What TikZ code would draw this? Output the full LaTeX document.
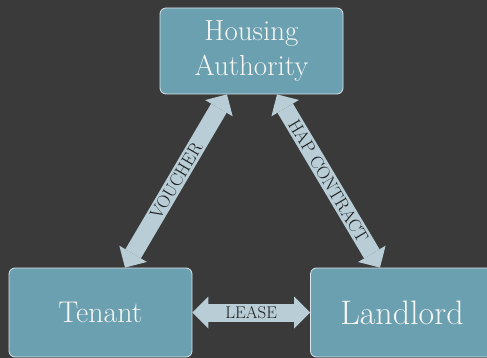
\documentclass[tikz,border=0pt]{standalone}
\usetikzlibrary{arrows.meta}

\definecolor{bg}{HTML}{3A3A3A}
\definecolor{boxfill}{HTML}{6BA0B1}
\definecolor{boxline}{HTML}{DCE6EA}
\definecolor{arrowfill}{HTML}{B8CDD6}
\definecolor{boxtext}{HTML}{F6F6F2}
\definecolor{labeltext}{HTML}{1E1E1E}

\begin{document}
\begin{tikzpicture}[x=1pt,y=-1pt,
    box/.style={shape=rectangle, draw=boxline, fill=boxfill, rounded corners=6pt, line width=0.8pt, text=boxtext, minimum width=183pt, align=center},
    link/.style={line width=18pt, arrowfill, {Triangle[length=16pt,width=32pt,line width=0pt]}-{Triangle[length=16pt,width=32pt,line width=0pt]}},
    tag/.style={midway, sloped, text=labeltext, inner sep=0pt, font=\fontsize{18}{20}\selectfont}]
    \fill[bg] (0,0) rectangle (487,358);
    \clip (0,0) rectangle (487,358);

    \node[box, minimum height=86pt, font=\fontsize{29}{35}\selectfont] (H) at (251.5,51) {Housing\\Authority};
    \node[box, minimum height=89pt, font=\fontsize{30}{36}\selectfont] (T) at (100.5,312.5) {Tenant};
    \node[box, minimum height=89pt, font=\fontsize{34}{40}\selectfont] (L) at (402,312.5) {Landlord};

    \path [link]([xshift=24.5pt]T.north) edge node[tag] {VOUCHER} ([xshift=-24.5pt]H.south);
    \path [link]([xshift=25.5pt]H.south) edge node[tag] {HAP CONTRACT} ([xshift=-22pt]L.north);
    \path [link](T) edge node[tag, font=\fontsize{17}{19}\selectfont] {LEASE} (L);

\end{tikzpicture}
\end{document}
